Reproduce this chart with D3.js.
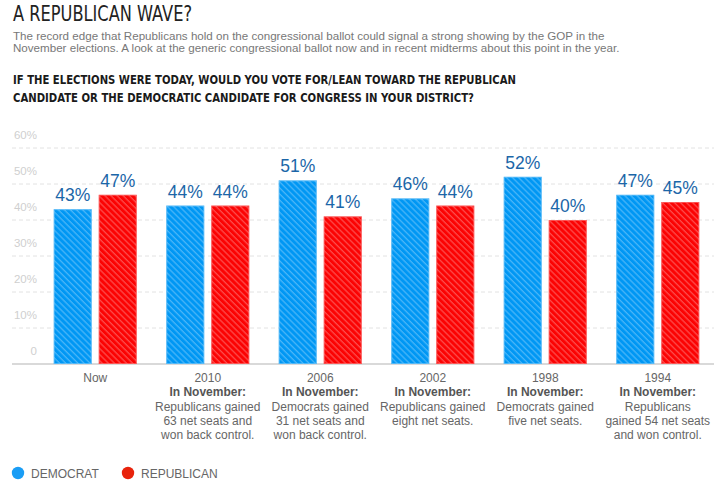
<!DOCTYPE html>
<html>
<head>
<meta charset="utf-8">
<script src="https://cdn.jsdelivr.net/npm/d3@7"></script>
<style>
  body { margin: 0; background: #fff; }
  svg { display: block; font-family: "Liberation Sans", Arial, sans-serif; }
</style>
</head>
<body>
<svg></svg>
<script>
// chart size
const width = 714;
const height = 487;
const marginLeft = 39;
const marginRight = 0;
const baseY = 364;
const topY = 148;

// data
const groups = ["Now", "2010", "2006", "2002", "1998", "1994"];
const parties = ["Democrat", "Republican"];
const democrat = [43, 44, 51, 46, 52, 47];
const republican = [47, 44, 41, 44, 40, 45];
const yTicks = [0, 10, 20, 30, 40, 50, 60];
const notes = [
  [],
  ["Republicans gained", "63 net seats and", "won back control."],
  ["Democrats gained", "31 net seats and", "won back control."],
  ["Republicans gained", "eight net seats."],
  ["Democrats gained", "five net seats."],
  ["Republicans", "gained 54 net seats", "and won control."]
];
const legendLabels = ["DEMOCRAT", "REPUBLICAN"];

const title = "A REPUBLICAN WAVE?";
const subtitle = [
  "The record edge that Republicans hold on the congressional ballot could signal a strong showing by the GOP in the",
  "November elections. A look at the generic congressional ballot now and in recent midterms about this point in the year."
];
const question = [
  "IF THE ELECTIONS WERE TODAY, WOULD YOU VOTE FOR/LEAN TOWARD THE REPUBLICAN",
  "CANDIDATE OR THE DEMOCRATIC CANDIDATE FOR CONGRESS IN YOUR DISTRICT?"
];

const barColor = {Democrat: "#0097f4", Republican: "#fb0303"};
const legendColor = {Democrat: "#1a9df5", Republican: "#e8230c"};

const svg = d3.select("svg")
    .attr("width", width)
    .attr("height", height)
    .attr("viewBox", [0, 0, width, height]);

// diagonal hatch
svg.append("defs").append("pattern")
    .attr("id", "hatch")
    .attr("patternUnits", "userSpaceOnUse")
    .attr("width", 4.3)
    .attr("height", 4.3)
    .attr("patternTransform", "rotate(-45)")
  .append("line")
    .attr("x1", 1).attr("y1", 0)
    .attr("x2", 1).attr("y2", 4.3)
    .attr("stroke", "#fff")
    .attr("stroke-opacity", 0.42)
    .attr("stroke-width", 0.9);

// headings
svg.append("text")
    .attr("x", 13).attr("y", 20.5)
    .attr("font-family", "'Liberation Sans Narrow', 'DejaVu Sans Condensed', sans-serif")
    .attr("font-size", 21)
    .attr("fill", "#222")
    .attr("textLength", 179)
    .attr("lengthAdjust", "spacingAndGlyphs")
    .text(title);

svg.append("g").selectAll("text")
  .data(subtitle)
  .join("text")
    .attr("x", 13)
    .attr("y", (d, i) => 39.5 + i * 12.5)
    .attr("font-size", 11.6)
    .attr("fill", "#777")
    .text(d => d);

svg.append("g").selectAll("text")
  .data(question)
  .join("text")
    .attr("x", 13)
    .attr("y", (d, i) => 84 + i * 18)
    .attr("font-family", "'Liberation Sans Narrow', 'DejaVu Sans Condensed', sans-serif")
    .attr("font-weight", "bold")
    .attr("font-size", 12.5)
    .attr("fill", "#1a1a1a")
    .attr("textLength", (d, i) => i === 0 ? 503 : 461)
    .attr("lengthAdjust", "spacingAndGlyphs")
    .text(d => d);

// scales
const x0 = d3.scaleBand(groups, [marginLeft, width - marginRight])
    .paddingInner(0.262)
    .paddingOuter(0.131);
const x1 = d3.scaleBand(parties, [0, x0.bandwidth()])
    .paddingInner(0.1556);
const y = d3.scaleLinear([0, 60], [baseY, topY]);

// grid + y labels
const grid = svg.append("g");
grid.selectAll("line")
  .data(yTicks.filter(d => d > 0))
  .join("line")
    .attr("x1", 12).attr("x2", width)
    .attr("y1", d => y(d)).attr("y2", d => y(d))
    .attr("stroke", "#e2e2e2")
    .attr("stroke-dasharray", "4,3");
grid.selectAll("text")
  .data(yTicks)
  .join("text")
    .attr("x", 37)
    .attr("y", d => y(d) - 9)
    .attr("text-anchor", "end")
    .attr("font-size", 11.5)
    .attr("fill", "#cfcfcf")
    .text(d => d === 0 ? "0" : d + "%");

svg.append("line")
    .attr("x1", 12).attr("x2", width)
    .attr("y1", y(0)).attr("y2", y(0))
    .attr("stroke", "#cccccc")
    .attr("stroke-width", 1.5);

// bars
const rows = groups.map((g, i) => ({
  group: g,
  values: [
    {party: "Democrat", value: democrat[i]},
    {party: "Republican", value: republican[i]}
  ]
}));

const groupG = svg.append("g").selectAll("g")
  .data(rows)
  .join("g")
    .attr("transform", d => `translate(${x0(d.group)},0)`);

const bar = groupG.selectAll("g")
  .data(d => d.values)
  .join("g");

bar.append("rect")
    .attr("x", d => x1(d.party))
    .attr("y", d => y(d.value))
    .attr("width", x1.bandwidth())
    .attr("height", d => y(0) - y(d.value))
    .attr("fill", d => barColor[d.party]);

bar.append("rect")
    .attr("x", d => x1(d.party) + 0.5)
    .attr("y", d => y(d.value) + 0.5)
    .attr("width", x1.bandwidth() - 1)
    .attr("height", d => y(0) - y(d.value) - 1)
    .attr("fill", "url(#hatch)")
    .attr("stroke", "#fff")
    .attr("stroke-opacity", 0.3);

bar.append("text")
    .attr("x", d => x1(d.party) + x1.bandwidth() / 2)
    .attr("y", d => y(d.value) - 8)
    .attr("text-anchor", "middle")
    .attr("font-size", 17.5)
    .attr("fill", "#1b66a8")
    .text(d => d.value + "%");

// category labels
const cat = svg.append("g").selectAll("text")
  .data(groups)
  .join("text")
    .attr("x", d => x0(d) + x0.bandwidth() / 2)
    .attr("y", 381.5)
    .attr("text-anchor", "middle")
    .attr("font-size", 12)
    .attr("fill", "#666");

cat.append("tspan")
    .text(d => d);
cat.filter((d, i) => notes[i].length > 0)
  .append("tspan")
    .attr("x", d => x0(d) + x0.bandwidth() / 2)
    .attr("dy", 14.6)
    .attr("font-weight", "bold")
    .attr("fill", "#555")
    .text("In November:");
cat.each(function(d, i) {
  d3.select(this).selectAll("tspan.note")
    .data(notes[i])
    .join("tspan")
      .attr("class", "note")
      .attr("x", x0(d) + x0.bandwidth() / 2)
      .attr("dy", 14.4)
      .text(t => t);
});

// legend
const legend = svg.append("g").selectAll("g")
  .data(parties)
  .join("g")
    .attr("transform", (d, i) => `translate(${18 + i * 110},473)`);
legend.append("circle")
    .attr("r", 6.2)
    .attr("fill", d => legendColor[d]);
legend.append("text")
    .attr("x", 13)
    .attr("y", 5)
    .attr("font-size", 12)
    .attr("fill", "#666")
    .text((d, i) => legendLabels[i]);
</script>
</body>
</html>
